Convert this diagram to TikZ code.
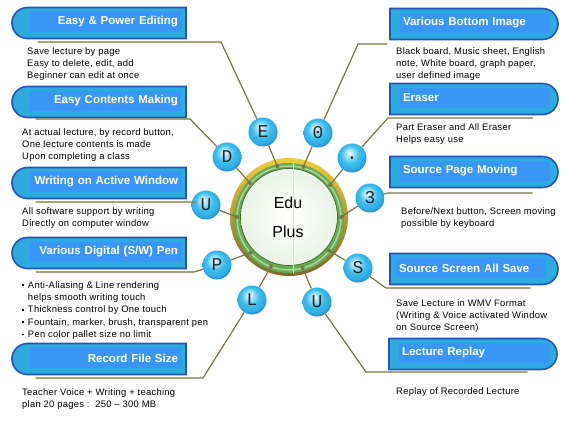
\documentclass[tikz,border=0pt]{standalone}
\usepackage{fontspec}
\setmainfont{Liberation Sans}
\newfontfamily\beadfont{Liberation Mono}
\newfontfamily\notefont[LetterSpace=3]{Liberation Sans}
\usetikzlibrary{shapes.misc,calc}
\definecolor{rim}{RGB}{38,84,184}
\definecolor{band}{RGB}{44,172,222}
\definecolor{panel}{RGB}{58,150,246}
\definecolor{stemc}{RGB}{122,116,66}
\definecolor{beadc}{RGB}{56,190,236}
\definecolor{beadd}{RGB}{30,130,210}
\definecolor{gold}{RGB}{228,184,84}
\definecolor{leaf}{RGB}{104,172,82}
\pgfdeclareradialshading{bead}{\pgfpoint{-5bp}{9bp}}{color(0bp)=(white); color(5bp)=(beadc!35!white); color(16bp)=(beadc); color(24bp)=(beadc!70!beadd); color(30bp)=(beadd); color(50bp)=(beadd)}
\newcommand{\sqbul}{\rule[2.2pt]{1.8pt}{1.8pt}\hspace{4pt}}

\begin{document}
\begin{tikzpicture}[x=1pt,y=-1pt,
    lcap/.style={rounded rectangle, rounded rectangle right arc=none, minimum width=174pt, minimum height=31pt, inner sep=0, fill=band, draw=rim, line width=1.6pt},
    rcap/.style={rounded rectangle, rounded rectangle left arc=none, minimum width=168pt, minimum height=31pt, inner sep=0, fill=band, draw=rim, line width=1.6pt},
    ltitle/.style={fill=panel, text=white, font=\bfseries\fontsize{11.5}{14}\selectfont, text width=144pt, align=right, inner xsep=4pt, inner ysep=0pt, minimum height=20pt},
    rtitle/.style={fill=panel, text=white, font=\bfseries\fontsize{11.5}{14}\selectfont, text width=144pt, align=left, inner xsep=3pt, inner ysep=0pt, minimum height=20pt},
    note/.style={anchor=north west, inner sep=0, align=left, font=\notefont\fontsize{9.4}{12.4}\selectfont},
    link/.style={draw=stemc, line width=1.2pt},
    bead/.style={circle, minimum size=29pt, inner sep=0, shading=bead, font=\beadfont\fontsize{18}{18}\selectfont, text=black!85}
  ]
  \useasboundingbox (0,0) rectangle (580,430);

  % hub
  \node[circle, minimum size=104pt, inner sep=0] (hub) at (289,217) {};
  \shade[top color=gold!70!yellow, bottom color=gold!55!black] (hub.center) circle (59pt);
  \fill[leaf] ([yshift=-1pt]hub.center) circle (55pt);
  \draw[leaf!55!white, line width=1.5pt] ([yshift=-1pt]hub.center) circle (52pt);
  \draw[leaf!60!black, line width=0.8pt] (hub.center) circle (48.5pt);
  \shade[inner color=white, outer color=leaf!14] (hub.center) circle (48pt);
  \draw[yellow, line width=1pt] (293,162) -- (293,274);
  \node[font=\fontsize{16}{16}\selectfont] (edu) at (288,203) {Edu};
  \node[font=\fontsize{16}{16}\selectfont] (plus) at (288,232) {Plus};

  % beads
  \node[bead] (bE) at (263,132) {E};
  \node[bead] (bO) at (318,133) {0};
  \node[bead] (bD) at (227,157) {D};
  \node[bead] (bDot) at (352,158) {.};
  \node[bead] (bU) at (206,205) {U};
  \node[bead] (bThree) at (370,198) {3};
  \node[bead] (bP) at (217,265) {P};
  \node[bead] (bS) at (358,268) {S};
  \node[bead] (bL) at (252,300) {L};
  \node[bead] (bUU) at (317,302) {U};

  % spokes
  \foreach \a/\b in {103/bE, 74/bO, 139/bD, 38/bDot, 180/bU, 0/bThree, 223/bP, 320/bS, 250/bL, 285/bUU} {
    \draw[link] (hub.\a) -- (\b);
    \fill[stemc] (hub.\a) circle (2pt);
  }

  % left boxes
  \node[lcap] (edit) at (99,23) {};
  \node[ltitle] (edit-t) at (106,22) {Easy \& Power Editing};
  \node[lcap] (make) at (99,102) {};
  \node[ltitle] (make-t) at (106,101) {Easy Contents Making};
  \node[lcap] (write) at (99,183) {};
  \node[ltitle] (write-t) at (106,182) {Writing on Active Window};
  \node[lcap] (pen) at (99,253) {};
  \node[ltitle] (pen-t) at (106,252) {Various Digital (S/W) Pen};
  \node[lcap] (size) at (99,359) {};
  \node[ltitle] (size-t) at (106,358) {Record File Size};

  % right boxes
  \node[rcap] (image) at (474,24) {};
  \node[rtitle] (image-t) at (475,23) {Various Bottom Image};
  \node[rcap] (erase) at (474,99) {};
  \node[rtitle] (erase-t) at (475,98) {Eraser};
  \node[rcap] (page) at (474,172) {};
  \node[rtitle] (page-t) at (475,171) {Source Page Moving};
  \node[rcap] (save) at (474,269) {};
  \node[rtitle] (save-t) at (471,268) {Source Screen All Save};
  \node[rcap] (replay) at (473,354) {};
  \node[rtitle] (replay-t) at (474,353) {Lecture Replay};

  % connectors, left
  \coordinate (kE) at (221,42);
  \coordinate (kD) at (190,119);
  \coordinate (kU) at (192,202);
  \coordinate (kP) at (194,272);
  \coordinate (kL) at (203,378);
  \draw[link] (bE) -- (kE) -- ([xshift=10pt]edit.south west |- kE);
  \draw[link] (bD) -- (kD) -- ([xshift=8pt]make.south west |- kD);
  \draw[link] (bU) -- (kU) -- ([xshift=8pt]write.south west |- kU);
  \draw[link] (bP) -- (kP) -- ([xshift=8pt]pen.south west |- kP);
  \draw[link] (bL) -- (kL) -- ([xshift=8pt]size.south west |- kL);

  % connectors, right
  \coordinate (kO) at (358,44);
  \coordinate (kO2) at (387,44);
  \coordinate (kDot) at (388,118);
  \coordinate (kThree) at (388,193);
  \coordinate (kS) at (386,288);
  \coordinate (kUU) at (366,372);
  \draw[link] (bO) -- (kO) -- (kO2);
  \draw[link] (bDot) -- (kDot) -- ([xshift=-10pt]erase.south east |- kDot);
  \draw[link] (bThree) -- (kThree) -- ([xshift=-10pt]page.south east |- kThree);
  \draw[link] (bS) -- (kS) -- ([xshift=-12pt]save.south east |- kS);
  \draw[link] (bUU) -- (kUU) -- ([xshift=-14pt]replay.south east |- kUU);

  % notes
  \node[note] (edit-n) at (27,47) {Save lecture by page\\Easy to delete, edit, add\\Beginner can edit at once};
  \node[note] (make-n) at (22,128) {At actual lecture, by record button,\\One lecture contents is made\\Upon completing a class};
  \node[note] (write-n) at (22,207) {All software support by writing\\Directly on computer window};
  \node[note] (pen-n) at (22,281) {\sqbul Anti-Aliasing \& Line rendering\\\hspace*{5.8pt}helps smooth writing touch\\\sqbul Thickness control by One touch\\\sqbul Fountain, marker, brush, transparent pen\\\sqbul Pen color pallet size no limit};
  \node[note] (size-n) at (22,388) {Teacher Voice + Writing + teaching\\plan 20 pages :\ \ 250 – 300 MB};
  \node[note] (image-n) at (396,47) {Black board, Music sheet, English\\note, White board, graph paper,\\user defined image};
  \node[note] (erase-n) at (396,123) {Part Eraser and All Eraser\\Helps easy use};
  \node[note] (page-n) at (401,207) {Before/Next button, Screen moving\\possible by keyboard};
  \node[note] (save-n) at (396,299) {Save Lecture in WMV Format\\(Writing \& Voice activated Window\\on Source Screen)};
  \node[note] (replay-n) at (396,387) {Replay of Recorded Lecture};
\end{tikzpicture}
\end{document}
